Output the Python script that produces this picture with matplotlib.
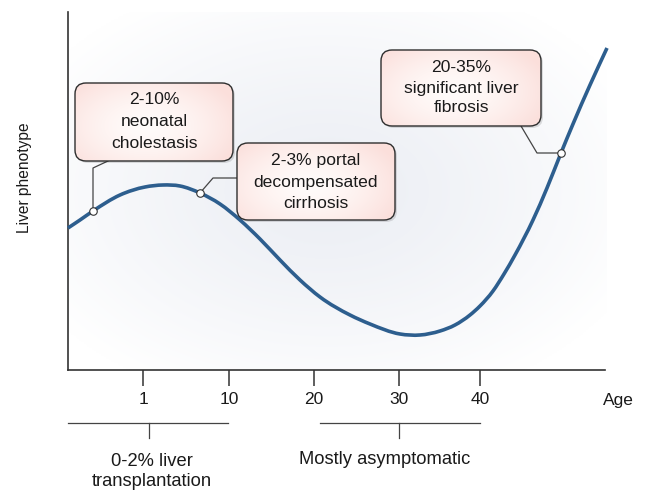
import numpy as np
import matplotlib
matplotlib.use("Agg")
import matplotlib.pyplot as plt
from matplotlib.patches import FancyBboxPatch, PathPatch
from matplotlib.path import Path

plt.rcParams['font.family'] = ['Liberation Sans', 'DejaVu Sans']

# ---------------- data (schematic units: x = age position, y = liver phenotype) ----
curve_x = [0, 12, 25, 52, 77, 95, 112, 132, 152, 172, 192, 212, 232, 252, 282, 302,
           332, 352, 372, 387, 402, 412, 425, 436, 447, 465, 479, 493, 505, 522, 539]
curve_y = [142, 150, 159, 175, 183, 185, 184, 177, 166, 150, 131, 110, 90, 73, 55, 46,
           36, 35, 39, 45, 55, 64, 79, 96, 115, 150, 182, 217, 246, 285, 322]
marker_idx = [2, 7, 27]

tick_pos = [75, 161, 246, 331, 412]
tick_labels = ['1', '10', '20', '30', '40']

box_texts = [["2-10%", "neonatal", "cholestasis"],
             ["2-3% portal", "decompensated", "cirrhosis"],
             ["20-35%", "significant liver", "fibrosis"]]

bottom_texts = [["0-2% liver", "transplantation"], ["Mostly asymptomatic"]]

# ---------------- figure ----------------
W, H = 646, 491
fig = plt.figure(figsize=(W / 100, H / 100), dpi=100)
L, B, R, T = 68, 370, 607, 12
ax = fig.add_axes([L / W, (H - B) / H, (R - L) / W, (B - T) / H])
ax.set_xlim(0, R - L)
ax.set_ylim(0, B - T)


def P(px, py):
    """layout helper: reference pixel -> axes data coordinates"""
    return px - L, B - py


# background gradient
ny, nx = 240, 320
yy, xx = np.mgrid[0:1:ny * 1j, 0:1:nx * 1j]
d = np.sqrt(((xx - 0.48) / 0.62) ** 2 + ((yy - 0.5) / 0.62) ** 2)
t = np.clip(d, 0, 1) ** 1.3
c0 = np.array([0.925, 0.935, 0.958])
c1 = np.array([1.0, 1.0, 1.0])
img = c0[None, None, :] * (1 - t[..., None]) + c1[None, None, :] * t[..., None]
ax.imshow(img, extent=[0, 1, 0, 1], transform=ax.transAxes, origin='lower',
          aspect='auto', zorder=0, interpolation='bilinear')
ax.set_xlim(0, R - L)
ax.set_ylim(0, B - T)

# spines
for s in ['top', 'right']:
    ax.spines[s].set_visible(False)
for s in ['left', 'bottom']:
    ax.spines[s].set_color('#333333')
    ax.spines[s].set_linewidth(1.2)
ax.spines['bottom'].set_bounds(0, 537)
ax.set_yticks([])
ax.set_xticks(tick_pos)
ax.set_xticklabels(tick_labels)
ax.tick_params(axis='x', length=11.5, width=1.1, color='#333333', pad=4,
               labelsize=12.5, labelcolor='#1a1a1a')

# curve: smooth cubic Hermite rendering (Bezier segments) through the data points
xs = np.asarray(curve_x, float)
ys = np.asarray(curve_y, float)
sec = np.diff(ys) / np.diff(xs)
m = np.empty_like(xs)
m[0], m[-1] = sec[0], sec[-1]
w1 = np.diff(xs)[1:]
w0 = np.diff(xs)[:-1]
m[1:-1] = (sec[:-1] * w1 + sec[1:] * w0) / (w0 + w1)
verts = [(xs[0], ys[0])]
codes = [Path.MOVETO]
for i in range(len(xs) - 1):
    h = xs[i + 1] - xs[i]
    verts += [(xs[i] + h / 3, ys[i] + m[i] * h / 3),
              (xs[i + 1] - h / 3, ys[i + 1] - m[i + 1] * h / 3),
              (xs[i + 1], ys[i + 1])]
    codes += [Path.CURVE4] * 3
ax.add_patch(PathPatch(Path(verts, codes), fc='none', ec='#2d5e8e', lw=2.6,
                       capstyle='butt', zorder=3, clip_on=False))
ax.plot([curve_x[i] for i in marker_idx], [curve_y[i] for i in marker_idx], 'o',
        ms=5.4, mfc='white', mec='#333333', mew=0.8, zorder=5, clip_on=False)

# annotation boxes (reference pixel layout)
boxes = [(75, 83, 233, 161), (237, 143, 395, 220), (381, 50, 541, 126)]
line_ys = [[100, 121, 143], [160, 182, 203], [67, 88, 108]]
leaders = [[(108, 161), (93, 168)], [(237, 178), (213, 178)], [(521, 126), (537, 153)]]

gy, gx = np.mgrid[0:1:60j, 0:1:100j]
gd = np.clip(np.sqrt(((gx - 0.45) / 0.62) ** 2 + ((gy - 0.55) / 0.75) ** 2), 0, 1) ** 1.6
p0c = np.array([1.0, 0.985, 0.98])
p1c = np.array([0.985, 0.875, 0.86])
pimg = p0c[None, None, :] * (1 - gd[..., None]) + p1c[None, None, :] * gd[..., None]

for k, (x0, y0, x1, y1) in enumerate(boxes):
    dx0, dy1 = P(x0, y0)
    dx1, dy0 = P(x1, y1)
    sh = FancyBboxPatch((dx0 + 2, dy0 - 2), dx1 - dx0, dy1 - dy0,
                        boxstyle="round,pad=0,rounding_size=11", fc='#000000',
                        ec='none', alpha=0.12, zorder=6, clip_on=False)
    ax.add_patch(sh)
    patch = FancyBboxPatch((dx0, dy0), dx1 - dx0, dy1 - dy0,
                           boxstyle="round,pad=0,rounding_size=11", fc='none',
                           ec='#2e2e2e', lw=1.0, zorder=8, clip_on=False)
    ax.add_patch(patch)
    im = ax.imshow(pimg, extent=[dx0, dx1, dy0, dy1], origin='upper', aspect='auto',
                   zorder=7, interpolation='bilinear')
    im.set_clip_path(patch)
    cx = (dx0 + dx1) / 2
    for txt, ly in zip(box_texts[k], line_ys[k]):
        ax.text(cx, P(0, ly)[1], txt, ha='center', va='center', fontsize=12.6,
                color='#1a1a1a', zorder=9)
    lpts = [P(*p) for p in leaders[k]] + [(curve_x[marker_idx[k]], curve_y[marker_idx[k]])]
    ax.plot([p[0] for p in lpts], [p[1] for p in lpts], color='#444444', lw=0.9,
            zorder=4, clip_on=False)

ax.set_xlim(0, R - L)
ax.set_ylim(0, B - T)

# Age label
ax.text(*P(618, 400), "Age", ha='center', va='center', fontsize=12.5, color='#1a1a1a',
        clip_on=False)

# y label
fig.text(25 / W, 1 - 178 / H, "Liver phenotype", rotation=90, ha='center', va='center',
         fontsize=11.2, color='#1a1a1a')

# bottom brackets
brackets = [(68, 228, 149), (320, 480, 399)]
for (bx0, bx1, bm) in brackets:
    ax.plot([P(bx0, 0)[0], P(bx1, 0)[0]], [P(0, 423)[1]] * 2, color='#444444', lw=0.9,
            clip_on=False)
    ax.plot([P(bm, 0)[0]] * 2, [P(0, 423)[1], P(0, 438)[1]], color='#444444', lw=0.9,
            clip_on=False)

bt_pos = [[(152, 461), (152, 482)], [(385, 460)]]
for texts, poss in zip(bottom_texts, bt_pos):
    for txt, (px, py) in zip(texts, poss):
        ax.text(*P(px, py), txt, ha='center', va='center', fontsize=13.2,
                color='#1a1a1a', clip_on=False)

fig.savefig("out.png", dpi=100)
